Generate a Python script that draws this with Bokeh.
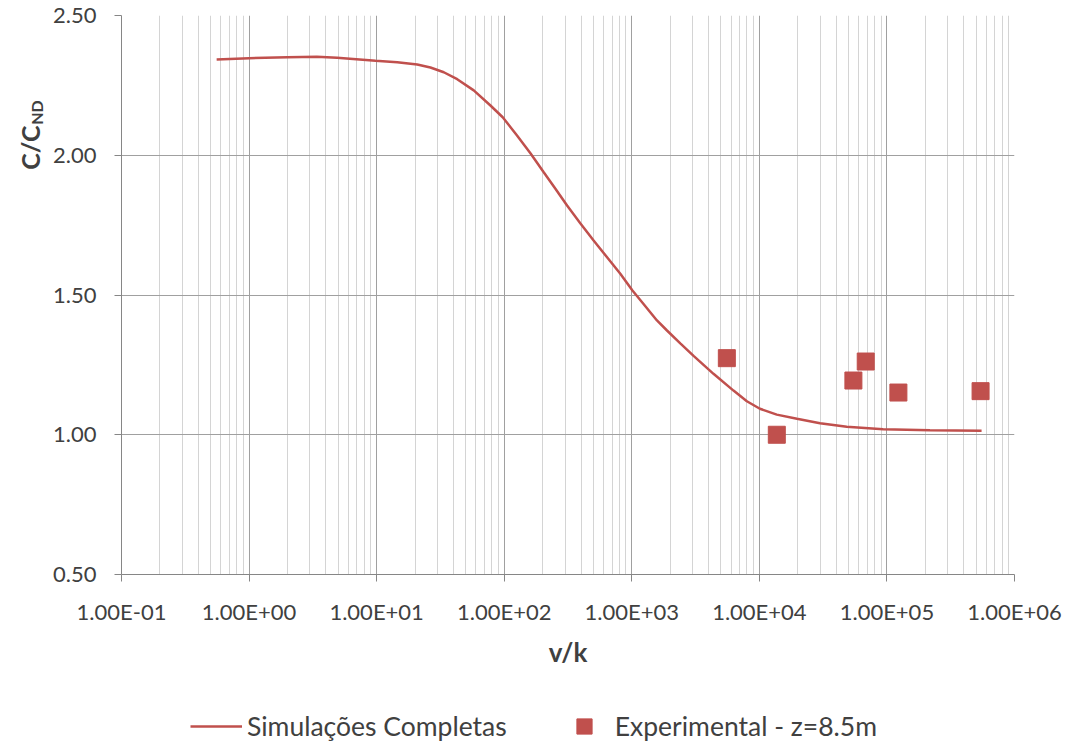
from math import pi

from bokeh.plotting import figure
from bokeh.layouts import row, column
from bokeh.models import (Range1d, FixedTicker, CustomJSTickFormatter,
                          NumeralTickFormatter, Label, Legend, LegendItem)
from bokeh.embed import file_html
from bokeh.resources import INLINE

# Full simulation curve: v/k against C/C_ND
vk_sim = [0.557, 1.0, 2.0, 3.4, 4.9, 9.8, 14.5, 20.8, 26.4, 33.6, 42.8, 57.7,
          78, 97.3, 126, 161, 204, 252, 311, 396, 502, 640, 813, 1012, 1236,
          1575, 1888, 2400, 3050, 4370, 6270, 7980, 10100, 13700, 19700,
          29900, 48400, 93400, 217000, 552000]
c_sim = [2.343, 2.347, 2.351, 2.352, 2.349, 2.338, 2.333, 2.325, 2.314, 2.297,
         2.272, 2.232, 2.178, 2.136, 2.071, 2.006, 1.939, 1.880, 1.820, 1.756,
         1.695, 1.635, 1.576, 1.516, 1.468, 1.409, 1.373, 1.327, 1.282, 1.218,
         1.158, 1.120, 1.093, 1.072, 1.057, 1.041, 1.029, 1.020, 1.016, 1.014]

# Experimental measurements at z = 8.5 m
vk_exp = [5560, 13700, 54600, 68200, 123000, 542000]
c_exp = [1.274, 1.000, 1.194, 1.262, 1.151, 1.156]

x_decades = [1e-1, 1e0, 1e1, 1e2, 1e3, 1e4, 1e5, 1e6]
y_ticks = [0.5, 1.0, 1.5, 2.0, 2.5]
series_names = ["Simulações Completas", "Experimental - z=8.5m"]
x_title = "v/k"
y_title_main = "C/C"
y_title_sub = "ND"

RED = "#C0504D"
FONT = "Lato"
TEXT = "#404040"

W, H = 1070, 745
TITLE_W = 48      # strip at the left holding the rotated y title
CHART_H = 670     # chart row height; the legend strip takes the rest
LEG_H = H - CHART_H


def bare_figure(width, height):
    f = figure(width=width, height=height, x_range=Range1d(0, width),
               y_range=Range1d(0, height), output_backend="svg",
               toolbar_location=None, x_axis_location=None,
               y_axis_location=None, min_border=0)
    f.outline_line_color = None
    f.xgrid.visible = False
    f.ygrid.visible = False
    f.background_fill_color = "white"
    f.border_fill_color = "white"
    return f


# ---- main chart -------------------------------------------------------
p = figure(width=W - TITLE_W, height=CHART_H, x_axis_type="log",
           x_range=Range1d(0.1, 1e6), y_range=Range1d(0.5, 2.5),
           output_backend="svg", toolbar_location=None,
           min_border_left=121 - TITLE_W, min_border_right=56,
           min_border_top=15, min_border_bottom=CHART_H - 15 - 559)
p.outline_line_color = None
p.background_fill_color = "white"
p.border_fill_color = "white"

minor = [k * d for d in x_decades[:-1] for k in range(2, 10)]
xticker = FixedTicker(ticks=x_decades, minor_ticks=minor)
yticker = FixedTicker(ticks=y_ticks, minor_ticks=[])
p.xaxis.ticker = xticker
p.yaxis.ticker = yticker
p.xgrid.ticker = xticker
p.ygrid.ticker = yticker

p.xaxis.formatter = CustomJSTickFormatter(code="""
const e = Math.round(Math.log10(tick));
const a = Math.abs(e);
return '1.00E' + (e < 0 ? '-' : '+') + (a < 10 ? '0' : '') + a;
""")
p.yaxis.formatter = NumeralTickFormatter(format="0.00")

p.xgrid.grid_line_color = "#a0a0a0"
p.xgrid.minor_grid_line_color = "#d4d4d4"
p.ygrid.grid_line_color = "#a0a0a0"

for ax in (p.xaxis, p.yaxis):
    ax.axis_line_color = "#868686"
    ax.major_tick_line_color = "#868686"
    ax.major_tick_out = 7
    ax.major_tick_in = 0
    ax.minor_tick_line_color = None
    ax.major_label_text_font = FONT
    ax.major_label_text_font_size = "22px"
    ax.major_label_text_color = TEXT

p.yaxis.major_label_standoff = 18
p.xaxis.major_label_standoff = 16

p.xaxis.axis_label = x_title
p.xaxis.axis_label_text_font = FONT
p.xaxis.axis_label_text_font_style = "bold"
p.xaxis.axis_label_text_font_size = "26px"
p.xaxis.axis_label_text_color = TEXT
p.xaxis.axis_label_standoff = 8

p.line(vk_sim, c_sim, line_color=RED, line_width=2.5)
p.scatter(vk_exp, c_exp, marker="square", size=17,
          fill_color=RED, line_color=RED)

# ---- y title strip: C/C with subscript ND ------------------------------
t = bare_figure(TITLE_W, CHART_H)
t.add_layout(Label(x=29, y=CHART_H - 185, text=y_title_main, angle=pi / 2,
                   text_align="left", text_baseline="middle",
                   text_font=FONT, text_font_style="bold",
                   text_font_size="25px", text_color=TEXT))
t.add_layout(Label(x=36, y=CHART_H - 131, text=y_title_sub, angle=pi / 2,
                   text_align="left", text_baseline="middle",
                   text_font=FONT, text_font_style="bold",
                   text_font_size="16px", text_color=TEXT))

# ---- legend strip -----------------------------------------------------
# hidden copies of the two series supply the legend keys
lg = bare_figure(W, LEG_H)
key_line = lg.line(vk_sim, c_sim, line_color=RED, line_width=2.5,
                   visible=False)
key_pts = lg.scatter(vk_exp, c_exp, marker="square", fill_color=RED,
                     line_color=RED, visible=False)
legend = Legend(items=[LegendItem(label=series_names[0], renderers=[key_line]),
                       LegendItem(label=series_names[1], renderers=[key_pts])],
                location=(190, 0), orientation="horizontal",
                border_line_color=None, background_fill_alpha=0,
                inactive_fill_alpha=0,
                padding=0, margin=0, spacing=51,
                glyph_width=52, glyph_height=38, label_standoff=5,
                label_text_font=FONT, label_text_font_size="26.5px",
                label_text_color=TEXT)
lg.add_layout(legend)

layout = column(row(t, p, spacing=0), lg, spacing=0)
open("out.html", "w").write(file_html(layout, INLINE))
